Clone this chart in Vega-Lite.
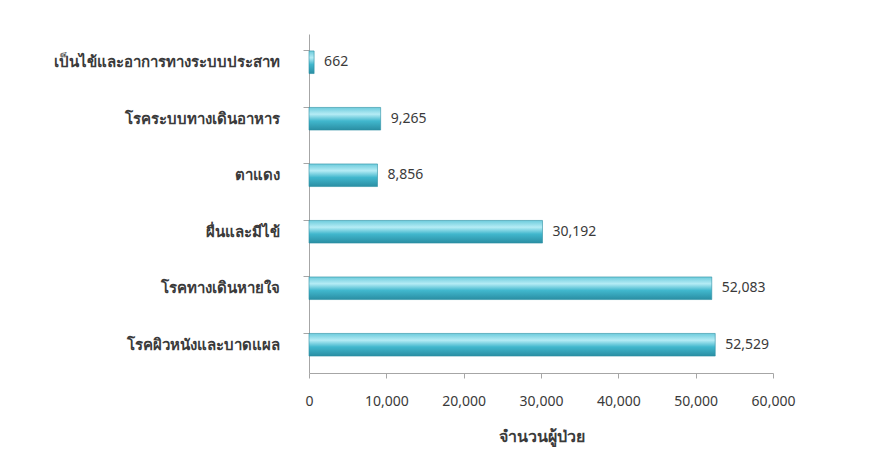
{
  "$schema": "https://vega.github.io/schema/vega-lite/v6.json",
  "width": 464,
  "height": 339,
  "autosize": {"type": "none"},
  "padding": {"left": 309, "top": 34, "right": 108, "bottom": 91},
  "background": "white",
  "config": {"view": {"stroke": null}, "font": "Noto Sans"},
  "data": {
    "values": [
      {"disease": "เป็นไข้และอาการทางระบบประสาท", "patients": 662},
      {"disease": "โรคระบบทางเดินอาหาร", "patients": 9265},
      {"disease": "ตาแดง", "patients": 8856},
      {"disease": "ผื่นและมีไข้", "patients": 30192},
      {"disease": "โรคทางเดินหายใจ", "patients": 52083},
      {"disease": "โรคผิวหนังและบาดแผล", "patients": 52529}
    ]
  },
  "encoding": {
    "y": {
      "field": "disease",
      "type": "nominal",
      "sort": null,
      "scale": {"paddingInner": 0.6, "paddingOuter": 0.3},
      "axis": {
        "title": null,
        "domainColor": "#a6a6a6",
        "tickColor": "#a6a6a6",
        "tickSize": 6,
        "bandPosition": 0,
        "labelPadding": 24,
        "labelFontSize": 15,
        "labelFontWeight": "bold",
        "labelColor": "#3a3a3a",
        "labelLimit": 320
      }
    },
    "x": {
      "field": "patients",
      "type": "quantitative",
      "scale": {"domain": [0, 60000]},
      "axis": {
        "title": "จำนวนผู้ป่วย",
        "titleFontSize": 16,
        "titleFontWeight": "bold",
        "titleColor": "#3a3a3a",
        "titlePadding": 20,
        "values": [0, 10000, 20000, 30000, 40000, 50000, 60000],
        "format": ",d",
        "grid": false,
        "labelFlush": false,
        "labelOverlap": false,
        "domainColor": "#a6a6a6",
        "tickColor": "#a6a6a6",
        "tickSize": 5,
        "labelPadding": 16,
        "labelFontSize": 14,
        "labelColor": "#3a3a3a"
      }
    }
  },
  "layer": [
    {
      "mark": {
        "type": "bar",
        "stroke": "#2b8fa3",
        "strokeWidth": 0.6,
        "fill": {
          "gradient": "linear",
          "x1": 0, "y1": 0, "x2": 0, "y2": 1,
          "stops": [
            {"offset": 0, "color": "#6ccbdc"},
            {"offset": 0.3, "color": "#b5ecf5"},
            {"offset": 0.6, "color": "#41b7cd"},
            {"offset": 1, "color": "#2a8ea3"}
          ]
        }
      }
    },
    {
      "mark": {"type": "text", "align": "left", "dx": 10, "fontSize": 14, "color": "#3a3a3a"},
      "encoding": {"text": {"field": "patients", "type": "quantitative", "format": ","}}
    }
  ]
}
